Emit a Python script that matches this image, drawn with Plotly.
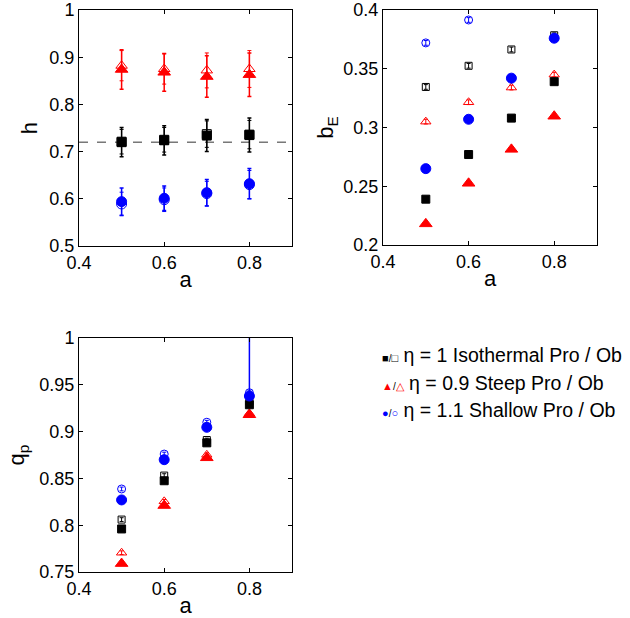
import plotly.graph_objects as go

a = [0.5, 0.6, 0.7, 0.8]

# panel h
h_iso_pro = [0.720, 0.724, 0.734, 0.735]
h_iso_pro_err = [0.031, 0.031, 0.034, 0.036]
h_iso_ob = [0.721, 0.725, 0.737, 0.736]
h_iso_ob_err = [0.026, 0.026, 0.028, 0.030]
h_steep_pro = [0.874, 0.868, 0.859, 0.863]
h_steep_pro_err = [0.042, 0.040, 0.044, 0.046]
h_steep_ob = [0.882, 0.875, 0.872, 0.875]
h_steep_ob_err = [0.032, 0.032, 0.037, 0.039]
h_shallow_pro = [0.594, 0.601, 0.613, 0.632]
h_shallow_pro_err = [0.029, 0.026, 0.028, 0.032]
h_shallow_ob = [0.589, 0.598, 0.611, 0.630]
h_shallow_ob_err = [0.025, 0.025, 0.026, 0.030]
h_ref_x = [0.4, 0.9]
h_ref = [0.72, 0.72]

# panel b_E
b_iso_pro = [0.239, 0.277, 0.308, 0.339]
b_iso_ob = [0.3345, 0.3525, 0.3664, 0.3785]
b_steep_pro = [0.218, 0.2525, 0.2814, 0.3096]
b_steep_ob = [0.305, 0.3215, 0.334, 0.345]
b_shallow_pro = [0.265, 0.307, 0.342, 0.376]
b_shallow_ob = [0.372, 0.3915, None, None]
b_ob_err = [0.002, 0.002, 0.002, 0.002]

# panel q_p
q_iso_pro = [0.796, 0.8475, 0.888, 0.9287]
q_iso_ob = [0.806, 0.853, 0.891, 0.932]
q_steep_pro = [0.759, 0.821, 0.872, 0.918]
q_steep_ob = [0.7706, 0.8255, 0.8752, 0.9195]
q_shallow_pro = [0.827, 0.870, 0.9046, 0.938]
q_shallow_pro_err_up = [0.0, 0.0, 0.0, 0.1]
q_shallow_ob = [0.8387, 0.876, 0.910, 0.9415]
q_ob_err = [0.002, 0.002, 0.002, 0.002]

BLACK = "black"
RED = "#ff0000"
BLUE = "#0000ff"

fig = go.Figure()

def add(x, y, color, symbol, size, xa, ya, err=None, errup=None, errdown=None, ew=1.5):
    kw = {}
    if err is not None:
        kw["error_y"] = dict(type="data", array=err, color=color, thickness=ew, width=2)
    elif errup is not None:
        kw["error_y"] = dict(type="data", symmetric=False, array=errup,
                             arrayminus=errdown, color=color, thickness=1.5, width=0)
    fig.add_trace(go.Scatter(x=x, y=y, mode="markers", xaxis=xa, yaxis=ya,
                             marker=dict(color=color, symbol=symbol, size=size,
                                         line=dict(color=color, width=1)),
                             showlegend=False, **kw))

# top-left h
fig.add_trace(go.Scatter(x=h_ref_x, y=h_ref, mode="lines", xaxis="x", yaxis="y",
                         line=dict(color="#333333", width=1, dash="dash"), showlegend=False))
add(a, h_steep_ob, RED, "triangle-up-open", 10, "x", "y", err=h_steep_ob_err, ew=1)
add(a, h_iso_ob, BLACK, "square-open", 9, "x", "y", err=h_iso_ob_err, ew=1)
add(a, h_shallow_ob, BLUE, "circle-open", 10, "x", "y", err=h_shallow_ob_err, ew=1)
add(a, h_steep_pro, RED, "triangle-up", 11, "x", "y", err=h_steep_pro_err)
add(a, h_iso_pro, BLACK, "square", 9, "x", "y", err=h_iso_pro_err)
add(a, h_shallow_pro, BLUE, "circle", 10, "x", "y", err=h_shallow_pro_err)

# top-right b_E
add(a, b_steep_ob, RED, "triangle-up-open", 9, "x2", "y2", err=b_ob_err, ew=1)
add(a, b_iso_ob, BLACK, "square-open", 7, "x2", "y2", err=b_ob_err, ew=1)
add(a, b_shallow_ob, BLUE, "circle-open", 8, "x2", "y2", err=b_ob_err, ew=1)
add(a, b_steep_pro, RED, "triangle-up", 11, "x2", "y2")
add(a, b_iso_pro, BLACK, "square", 8, "x2", "y2")
add(a, b_shallow_pro, BLUE, "circle", 10, "x2", "y2")

# bottom q_p
add(a, q_steep_ob, RED, "triangle-up-open", 9, "x3", "y3", err=q_ob_err, ew=1)
add(a, q_iso_ob, BLACK, "square-open", 7, "x3", "y3", err=q_ob_err, ew=1)
add(a, q_shallow_ob, BLUE, "circle-open", 8, "x3", "y3", err=q_ob_err, ew=1)
add(a, q_steep_pro, RED, "triangle-up", 11, "x3", "y3")
add(a, q_iso_pro, BLACK, "square", 8, "x3", "y3")
add(a, q_shallow_pro, BLUE, "circle", 10, "x3", "y3",
    errup=q_shallow_pro_err_up, errdown=[0, 0, 0, 0])

W, H = 630, 618
def dx(l, r):
    return [l / W, r / W]
def dy(t, b):
    return [1 - b / H, 1 - t / H]

FONT = "Liberation Sans, Arial, sans-serif"
tickfont = dict(family=FONT, size=18, color="black")
titlefont = dict(family=FONT, size=22, color="black")

def xax(domain, anchor):
    return dict(domain=domain, anchor=anchor, range=[0.4, 0.9], tickvals=[0.4, 0.6, 0.8],
                ticktext=["0.4", "0.6", "0.8"], showgrid=False, zeroline=False,
                showline=True, linecolor="black", linewidth=1, mirror="ticks",
                ticks="inside", ticklen=4, tickcolor="black", tickfont=tickfont,
                automargin=False, ticklabeloverflow="allow",
                title=dict(text="a", font=titlefont, standoff=0))

def yax(domain, anchor, rng, vals, labels, title, standoff):
    return dict(domain=domain, anchor=anchor, range=rng, tickvals=vals, ticktext=labels,
                showgrid=False, zeroline=False, showline=True, linecolor="black",
                linewidth=1, mirror="ticks", ticks="inside", ticklen=4, tickcolor="black",
                tickfont=tickfont, automargin=False, ticklabeloverflow="allow",
                title=dict(text=title, font=titlefont, standoff=standoff))

h_ticks = [0.5, 0.6, 0.7, 0.8, 0.9, 1.0]
h_labels = ["0.5", "0.6", "0.7", "0.8", "0.9", "1"]
b_ticks = [0.2, 0.25, 0.3, 0.35, 0.4]
b_labels = ["0.2", "0.25", "0.3", "0.35", "0.4"]
q_ticks = [0.75, 0.8, 0.85, 0.9, 0.95, 1.0]
q_labels = ["0.75", "0.8", "0.85", "0.9", "0.95", "1"]

legend_lines = [
    ("<span style='color:black'>■</span><span style='font-size:10px'>/</span><span style='color:black'>□</span>",
     " η = 1 Isothermal Pro / Ob"),
    ("<span style='color:red'>▲</span><span style='font-size:10px'>/</span><span style='color:red'>△</span>",
     " η = 0.9 Steep Pro / Ob"),
    ("<span style='color:blue'>●</span><span style='font-size:10px'>/</span><span style='color:blue'>○</span>",
     " η = 1.1 Shallow Pro / Ob"),
]
legend_y = [355, 383, 410]

annotations = []
for (sym, txt), yy in zip(legend_lines, legend_y):
    annotations.append(dict(
        x=380 / W, y=1 - yy / H, xref="paper", yref="paper",
        xanchor="left", yanchor="middle", showarrow=False,
        text=f"<span style='font-size:11px'>{sym}</span>{txt}",
        font=dict(family=FONT, size=19.5, color="black")))

fig.update_layout(
    width=W, height=H, margin=dict(l=0, r=0, t=0, b=0),
    paper_bgcolor="white", plot_bgcolor="white",
    xaxis=xax(dx(79, 292), "y"),
    yaxis=yax(dy(10, 246), "x", [0.5, 1.0], h_ticks, h_labels, "h", 5),
    xaxis2=xax(dx(383, 597), "y2"),
    yaxis2=yax(dy(10, 245), "x2", [0.2, 0.4], b_ticks, b_labels, "b<sub>E</sub>", 3),
    xaxis3=xax(dx(79, 292), "y3"),
    yaxis3=yax(dy(338, 572), "x3", [0.75, 1.0], q_ticks, q_labels, "q<sub>p</sub>", 8),
    annotations=annotations,
)

fig.write_html("out.html", config={"displayModeBar": False},
               post_script="document.body.style.margin='0';document.body.style.padding='0';")
